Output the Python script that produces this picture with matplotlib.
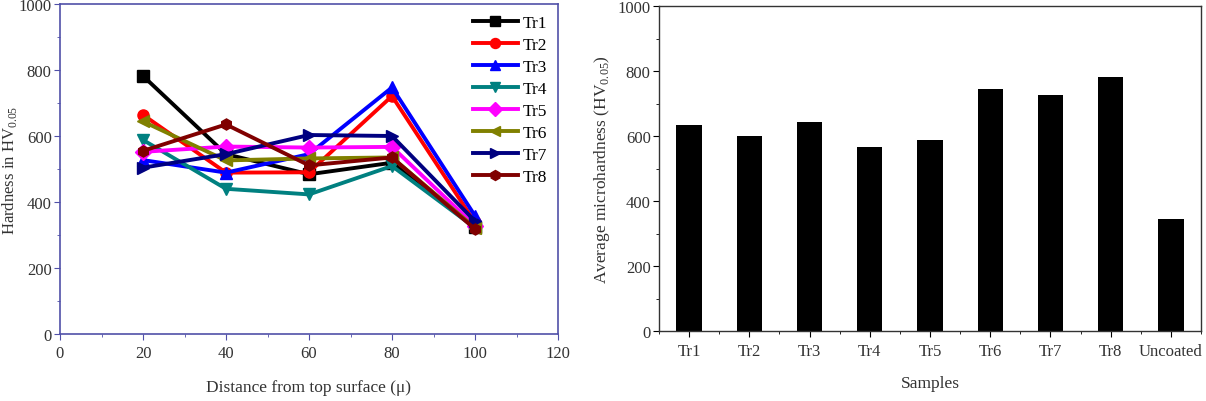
import numpy as np
import matplotlib
matplotlib.use("Agg")
import matplotlib.pyplot as plt
from matplotlib.ticker import MultipleLocator, FixedLocator

plt.rcParams["font.family"] = ["Liberation Serif", "DejaVu Serif"]
plt.rcParams["mathtext.fontset"] = "custom"
plt.rcParams["mathtext.rm"] = "Liberation Serif"

# depth profile data
depth = [20, 40, 60, 80, 100]
tr1 = [782, 545, 484, 519, 325]
tr2 = [664, 489, 490, 721, 338]
tr3 = [527, 489, 545, 747, 358]
tr4 = [588, 440, 423, 509, 322]
tr5 = [552, 568, 565, 567, 328]
tr6 = [644, 526, 532, 535, 322]
tr7 = [504, 545, 603, 600, 342]
tr8 = [555, 635, 511, 535, 318]
series = [tr1, tr2, tr3, tr4, tr5, tr6, tr7, tr8]
names = ["Tr1", "Tr2", "Tr3", "Tr4", "Tr5", "Tr6", "Tr7", "Tr8"]

# average microhardness
samples = ["Tr1", "Tr2", "Tr3", "Tr4", "Tr5", "Tr6", "Tr7", "Tr8", "Uncoated"]
avg = [633, 600, 644, 566, 587, 744, 725, 783, 346]

colors = ["#000000", "#ff0000", "#0000ff", "#008080", "#ff00ff",
          "#808000", "#000080", "#800000"]
markers = ["s", "o", "^", "v", "D", "<", ">", "h"]

fig = plt.figure(figsize=(12.06, 4.02), dpi=100)
W, H = 1206, 402
ax1 = fig.add_axes([60 / W, 1 - 335 / H, (558 - 60) / W, (335 - 5) / H])
ax2 = fig.add_axes([659 / W, 1 - 332 / H, (1201 - 659) / W, (332 - 7) / H])

txt = "#333333"
spine_col = "#5050a8"
for y, n, c, m in zip(series, names, colors, markers):
    ax1.plot(depth, y, color=c, marker=m, markersize=8, linewidth=2.8,
             label=n)
ax1.set_xlim(0, 120)
ax1.set_ylim(0, 1000)
ax1.xaxis.set_major_locator(MultipleLocator(20))
ax1.xaxis.set_minor_locator(MultipleLocator(10))
ax1.yaxis.set_major_locator(MultipleLocator(200))
ax1.yaxis.set_minor_locator(MultipleLocator(100))
for s in ax1.spines.values():
    s.set_color(spine_col)
    s.set_linewidth(1.2)
ax1.tick_params(which="both", direction="out", color=spine_col,
                labelcolor=txt, labelsize=12)
ax1.tick_params(which="major", length=4, pad=2)
ax1.tick_params(axis="x", which="major", pad=4)
ax1.tick_params(which="minor", length=2.5)
ax1.set_xlabel("Distance from top surface (\u03bc)", fontsize=12.5,
               color=txt, labelpad=13)
ax1.set_ylabel("Hardness in HV$_{0.05}$", fontsize=12, color=txt)
ax1.yaxis.set_label_coords((19 - 60) / 498, 0.5)
ax1.legend(loc="upper right", frameon=False, fontsize=12.5,
           handlelength=2.6, labelspacing=0.33, borderaxespad=0.25,
           handletextpad=0.25, markerscale=0.9)

x = np.arange(len(samples))
ax2.bar(x, avg, width=0.42, color="black")
ax2.set_xlim(-0.5, len(samples) - 0.5)
ax2.set_ylim(0, 1000)
ax2.set_xticks(x)
ax2.set_xticklabels(samples)
ax2.xaxis.set_minor_locator(FixedLocator(np.arange(-0.5, len(samples), 1.0)))
ax2.yaxis.set_major_locator(MultipleLocator(200))
ax2.yaxis.set_minor_locator(MultipleLocator(100))
for s in ax2.spines.values():
    s.set_color(txt)
    s.set_linewidth(1.0)
ax2.tick_params(which="both", direction="out", labelcolor=txt,
                labelsize=12)
ax2.tick_params(which="major", length=4, pad=2)
ax2.tick_params(axis="x", which="major", pad=5)
ax2.tick_params(which="minor", length=2.5)
ax2.set_xlabel("Samples", fontsize=12.5, color=txt, labelpad=11)
ax2.set_ylabel("Average microhardness (HV$_{0.05}$)", fontsize=12.5,
               color=txt, labelpad=4)

fig.savefig("out.png", dpi=100)
